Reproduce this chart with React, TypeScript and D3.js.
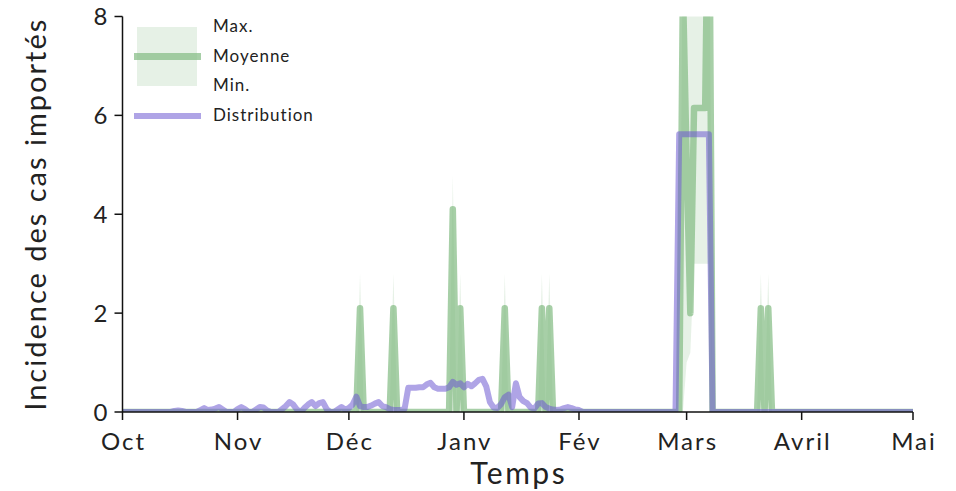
import React from 'react';
import * as d3 from 'd3';

const START = new Date(2019, 9, 1);
const END = new Date(2020, 4, 1);
const MONTH_LABELS = ['Oct', 'Nov', 'Déc', 'Janv', 'Fév', 'Mars', 'Avril', 'Mai'];
const Y_TICKS = [0, 2, 4, 6, 8];

// daily values, Oct 1 2019 .. May 1 2020 (214 days)
const MEAN = [
  0, 0, 0, 0, 0, 0, 0, 0, 0, 0,
  0, 0, 0, 0, 0, 0, 0, 0, 0, 0,
  0, 0, 0, 0, 0, 0, 0, 0, 0, 0,
  0, 0, 0, 0, 0, 0, 0, 0, 0, 0,
  0, 0, 0, 0, 0, 0, 0, 0, 0, 0,
  0, 0, 0, 0, 0, 0, 0, 0, 0, 0,
  0, 0, 0, 0, 2.1, 0, 0, 0, 0, 0,
  0, 0, 0, 2.1, 0, 0, 0, 0, 0, 0,
  0, 0, 0, 0, 0, 0, 0, 0, 0, 4.1,
  0, 2.1, 0, 0, 0, 0, 0, 0, 0, 0,
  0, 0, 0, 2.1, 0, 0, 0, 0, 0, 0,
  0, 0, 0, 2.1, 0, 2.1, 0, 0, 0, 0,
  0, 0, 0, 0, 0, 0, 0, 0, 0, 0,
  0, 0, 0, 0, 0, 0, 0, 0, 0, 0,
  0, 0, 0, 0, 0, 0, 0, 0, 0, 0,
  0, 8.6, 5.1, 2.0, 6.15, 6.15, 6.15, 6.15, 12, 0,
  0, 0, 0, 0, 0, 0, 0, 0, 0, 0,
  0, 0, 2.1, 0, 2.1, 0, 0, 0, 0, 0,
  0, 0, 0, 0, 0, 0, 0, 0, 0, 0,
  0, 0, 0, 0, 0, 0, 0, 0, 0, 0,
  0, 0, 0, 0, 0, 0, 0, 0, 0, 0,
  0, 0, 0, 0,
];

const MIN = [
  0, 0, 0, 0, 0, 0, 0, 0, 0, 0,
  0, 0, 0, 0, 0, 0, 0, 0, 0, 0,
  0, 0, 0, 0, 0, 0, 0, 0, 0, 0,
  0, 0, 0, 0, 0, 0, 0, 0, 0, 0,
  0, 0, 0, 0, 0, 0, 0, 0, 0, 0,
  0, 0, 0, 0, 0, 0, 0, 0, 0, 0,
  0, 0, 0, 0, 0, 0, 0, 0, 0, 0,
  0, 0, 0, 0, 0, 0, 0, 0, 0, 0,
  0, 0, 0, 0, 0, 0, 0, 0, 0, 0,
  0, 0, 0, 0, 0, 0, 0, 0, 0, 0,
  0, 0, 0, 0, 0, 0, 0, 0, 0, 0,
  0, 0, 0, 0, 0, 0, 0, 0, 0, 0,
  0, 0, 0, 0, 0, 0, 0, 0, 0, 0,
  0, 0, 0, 0, 0, 0, 0, 0, 0, 0,
  0, 0, 0, 0, 0, 0, 0, 0, 0, 0,
  0, 0, 1.0, 1.2, 3.0, 3.0, 3.0, 3.0, 3.0, 0,
  0, 0, 0, 0, 0, 0, 0, 0, 0, 0,
  0, 0, 0, 0, 0, 0, 0, 0, 0, 0,
  0, 0, 0, 0, 0, 0, 0, 0, 0, 0,
  0, 0, 0, 0, 0, 0, 0, 0, 0, 0,
  0, 0, 0, 0, 0, 0, 0, 0, 0, 0,
  0, 0, 0, 0,
];

const MAX = [
  0, 0, 0, 0, 0, 0, 0, 0, 0, 0,
  0, 0, 0, 0, 0, 0, 0, 0, 0, 0,
  0, 0, 0, 0, 0, 0, 0, 0, 0, 0,
  0, 0, 0, 0, 0, 0, 0, 0, 0, 0,
  0, 0, 0, 0, 0, 0, 0, 0, 0, 0,
  0, 0, 0, 0, 0, 0, 0, 0, 0, 0,
  0, 0, 0, 0, 2.8, 0, 0, 0, 0, 0,
  0, 0, 0, 2.8, 0, 0, 0, 0, 0, 0,
  0, 0, 0, 0, 0, 0, 0, 0, 0, 4.8,
  0, 2.8, 0, 0, 0, 0, 0, 0, 0, 0,
  0, 0, 0, 2.8, 0, 0, 0, 0, 0, 0,
  0, 0, 0, 2.8, 0, 2.8, 0, 0, 0, 0,
  0, 0, 0, 0, 0, 0, 0, 0, 0, 0,
  0, 0, 0, 0, 0, 0, 0, 0, 0, 0,
  0, 0, 0, 0, 0, 0, 0, 0, 0, 0,
  0, 10, 12, 12, 12, 12, 12, 12, 12, 0,
  0, 0, 0, 0, 0, 0, 0, 0, 0, 0,
  0, 0, 2.8, 0, 2.8, 0, 0, 0, 0, 0,
  0, 0, 0, 0, 0, 0, 0, 0, 0, 0,
  0, 0, 0, 0, 0, 0, 0, 0, 0, 0,
  0, 0, 0, 0, 0, 0, 0, 0, 0, 0,
  0, 0, 0, 0,
];

const DIST = [
  0, 0, 0, 0, 0, 0, 0, 0, 0, 0,
  0, 0, 0, 0, 0.02, 0.03, 0.02, 0, 0, 0,
  0, 0.04, 0.08, 0.04, 0.05, 0.07, 0.1, 0.05, 0, 0,
  0, 0.06, 0.1, 0.06, 0, 0, 0.05, 0.1, 0.09, 0.03,
  0, 0, 0, 0.06, 0.12, 0.2, 0.15, 0.05, 0, 0.08,
  0.15, 0.2, 0.12, 0.18, 0.2, 0.06, 0, 0, 0.05, 0.1,
  0.05, 0.08, 0.15, 0.31, 0.12, 0.1, 0.1, 0.13, 0.17, 0.2,
  0.12, 0.1, 0.06, 0.04, 0.04, 0.04, 0.06, 0.49, 0.49, 0.49,
  0.5, 0.5, 0.56, 0.59, 0.5, 0.47, 0.47, 0.47, 0.5, 0.61,
  0.55, 0.58, 0.5, 0.57, 0.52, 0.58, 0.65, 0.67, 0.52, 0.2,
  0.09, 0.08, 0.16, 0.3, 0.35, 0.1, 0.58, 0.3, 0.22, 0.18,
  0.09, 0.07, 0.17, 0.18, 0.1, 0.07, 0.05, 0.04, 0.05, 0.08,
  0.1, 0.08, 0.05, 0.04, 0, 0, 0, 0, 0, 0,
  0, 0, 0, 0, 0, 0, 0, 0, 0, 0,
  0, 0, 0, 0, 0, 0, 0, 0, 0, 0,
  5.62, 5.62, 5.62, 5.62, 5.62, 5.62, 5.62, 5.62, 5.62, 0,
  0, 0, 0, 0, 0, 0, 0, 0, 0, 0,
  0, 0, 0, 0, 0, 0, 0, 0, 0, 0,
  0, 0, 0, 0, 0, 0, 0, 0, 0, 0,
  0, 0, 0, 0, 0, 0, 0, 0, 0, 0,
  0, 0, 0, 0, 0, 0, 0, 0, 0, 0,
  0, 0, 0, 0,
];

const LEGEND_LABELS = ['Max.', 'Moyenne', 'Min.', 'Distribution'];

const GREEN = '#82bb82';
const PURPLE = '#6e5ad2';
const FONT = 'Lato, "Open Sans", sans-serif';

export default function App() {
  const W = 956;
  const H = 491;
  const left = 122.5;
  const right = 913;
  const top = 16.5;
  const bottom = 412;

  const dates = d3.timeDay.range(START, d3.timeDay.offset(END, 1));
  const x = d3.scaleTime().domain([START, END]).range([left, right]);
  const y = d3.scaleLinear().domain([0, 8]).range([bottom, top]);

  const line = d3
    .line<number>()
    .x((_, i) => x(dates[i]))
    .y((d) => y(d));
  const band = d3
    .area<number>()
    .x((_, i) => x(dates[i]))
    .y0((_, i) => y(MIN[i]))
    .y1((_, i) => y(MAX[i]));

  const monthTicks = d3.timeMonth.range(START, d3.timeDay.offset(END, 1));

  return (
    <svg
      width={W}
      height={H}
      style={{ position: 'absolute', left: 0, top: 0, background: '#fff' }}
      fontFamily={FONT}
    >
      <defs>
        <clipPath id="plot">
          <rect x={left} y={top} width={right - left} height={bottom - top} />
        </clipPath>
      </defs>

      <g clipPath="url(#plot)">
        <path d={band(MEAN) || ''} fill={GREEN} fillOpacity={0.2} stroke="none" />
        <path
          d={line(MEAN) || ''}
          fill="none"
          stroke={GREEN}
          strokeOpacity={0.7}
          strokeWidth={6.5}
          strokeLinejoin="round"
        />
        <path
          d={line(DIST) || ''}
          fill="none"
          stroke={PURPLE}
          strokeOpacity={0.55}
          strokeWidth={6}
          strokeLinejoin="round"
        />
      </g>

      {/* axes */}
      <line x1={left} x2={left} y1={top} y2={bottom} stroke="#111" strokeWidth={1.5} />
      <line x1={left} x2={right} y1={bottom} y2={bottom} stroke="#111" strokeWidth={1.5} />

      {Y_TICKS.map((t) => (
        <g key={t}>
          <line x1={left - 8} x2={left} y1={y(t)} y2={y(t)} stroke="#111" strokeWidth={1.5} />
          <text x={left - 15} y={y(t)} dy="0.36em" textAnchor="end" fontSize={24} fill="#222">
            {t}
          </text>
        </g>
      ))}

      {monthTicks.map((m, i) => (
        <g key={i}>
          <line x1={x(m)} x2={x(m)} y1={bottom} y2={bottom + 8} stroke="#111" strokeWidth={1.5} />
          <text
            x={x(m) + 1}
            y={bottom + 38}
            textAnchor="middle"
            fontSize={24}
            letterSpacing={2}
            fill="#222"
          >
            {MONTH_LABELS[i]}
          </text>
        </g>
      ))}

      <text
        x={(left + right) / 2 + 1}
        y={484}
        textAnchor="middle"
        fontSize={30}
        letterSpacing={2.5}
        fill="#222"
      >
        Temps
      </text>
      <text
        transform={`translate(46, ${(top + bottom) / 2}) rotate(-90)`}
        textAnchor="middle"
        fontSize={29}
        letterSpacing={2}
        fill="#222"
      >
        Incidence des cas importés
      </text>

      {/* legend */}
      <rect x={137} y={27} width={60} height={59} fill={GREEN} fillOpacity={0.2} />
      <line x1={134} x2={201} y1={56.5} y2={56.5} stroke={GREEN} strokeOpacity={0.7} strokeWidth={7} />
      <line x1={134} x2={201} y1={116} y2={116} stroke={PURPLE} strokeOpacity={0.55} strokeWidth={6} />
      {LEGEND_LABELS.map((l, i) => (
        <text key={l} x={213} y={[32, 62, 91, 121][i]} fontSize={17} letterSpacing={1} fill="#222">
          {l}
        </text>
      ))}
    </svg>
  );
}
